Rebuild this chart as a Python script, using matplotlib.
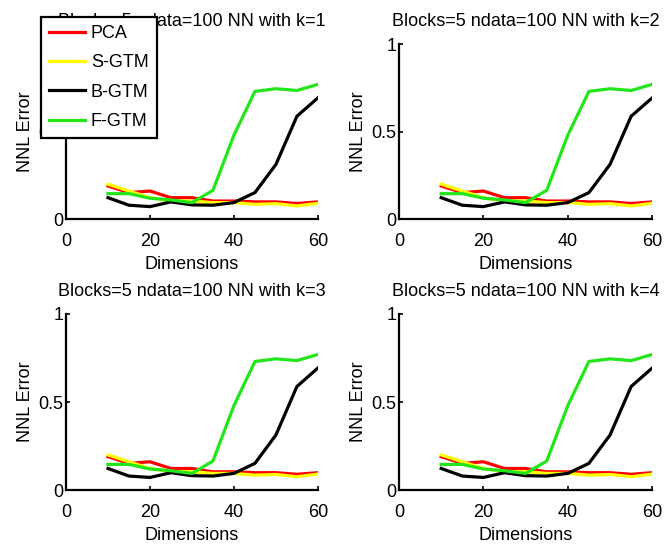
import numpy as np
import matplotlib.pyplot as plt

plt.rcParams['font.family'] = ['Liberation Sans', 'DejaVu Sans']

dims = [10, 15, 20, 25, 30, 35, 40, 45, 50, 55, 60]
pca = [0.19, 0.152, 0.161, 0.123, 0.123, 0.104, 0.104, 0.099, 0.099, 0.09, 0.099]
sgtm = [0.2, 0.161, 0.123, 0.104, 0.104, 0.095, 0.095, 0.085, 0.089, 0.076, 0.091]
bgtm = [0.123, 0.08, 0.072, 0.099, 0.082, 0.08, 0.095, 0.152, 0.313, 0.588, 0.693]
fgtm = [0.146, 0.146, 0.12, 0.11, 0.095, 0.165, 0.48, 0.73, 0.745, 0.735, 0.77]

series = [("PCA", pca, "#ff0000"), ("S-GTM", sgtm, "#ffff00"),
          ("B-GTM", bgtm, "#000000"), ("F-GTM", fgtm, "#22e61a")]
ks = [1, 2, 3, 4]

fig = plt.figure(figsize=(6.7, 5.44), dpi=100)
positions = [[0.0985, 0.597, 0.376, 0.322], [0.5955, 0.597, 0.378, 0.322],
             [0.0985, 0.099, 0.376, 0.324], [0.5955, 0.099, 0.378, 0.324]]

for k, pos in zip(ks, positions):
    ax = fig.add_axes(pos)
    for name, vals, col in series:
        ax.plot(dims, vals, color=col, lw=2.3, label=name)
    ax.set_xlim(0, 60)
    ax.set_ylim(0, 1)
    ax.set_xticks([0, 20, 40, 60])
    ax.set_yticks([0, 0.5, 1])
    ax.set_yticklabels(["0", "0.5", "1"])
    ax.spines['top'].set_visible(False)
    ax.spines['right'].set_visible(False)
    ax.spines['left'].set_linewidth(1.6)
    ax.spines['bottom'].set_linewidth(1.6)
    ax.tick_params(direction='in', length=3, width=1.2, labelsize=13)
    ax.tick_params(axis='x', pad=10)
    ax.tick_params(axis='y', pad=2)
    ax.set_xlabel("Dimensions", fontsize=13, labelpad=4)
    ax.set_ylabel("NNL Error", fontsize=13, labelpad=3)
    ax.set_title("Blocks=5 ndata=100 NN with k=%d" % k, fontsize=13, pad=13)
    if k == 1:
        leg = ax.legend(loc='upper left', bbox_to_anchor=(-0.099, 1.154), fontsize=13,
                        frameon=True, fancybox=False, edgecolor='black', framealpha=1,
                        handlelength=2.0, borderpad=0.45, labelspacing=0.68,
                        handletextpad=0.3, borderaxespad=0)
        leg.get_frame().set_linewidth(1.6)
        leg.set_zorder(5)

fig.savefig("out.png", dpi=100)
